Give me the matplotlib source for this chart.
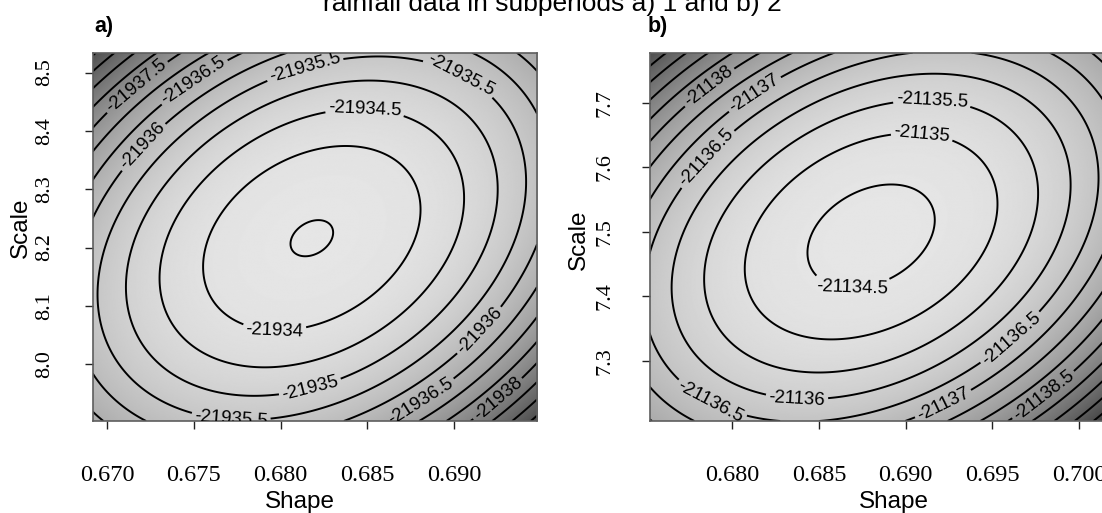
import numpy as np
import matplotlib
matplotlib.use("Agg")
import matplotlib.pyplot as plt

W, H, DPI = 1102, 513, 100

# ---------------- data ----------------
title = "rainfall data in subperiods a) 1 and b) 2"
panel_tags = ["a)", "b)"]
x_label = "Shape"
y_label = "Scale"

# log-likelihood surface (quadratic approximation around the maximum)
shape_mle = [0.6818, 0.6880]
scale_mle = [8.216, 7.493]
shape_se = [0.00615, 0.0063]
scale_se = [0.155, 0.138]
shape_scale_corr = [0.31, 0.315]
loglik_max = [-21933.48, -21134.33]

shape_range = [(0.66916, 0.69479), (0.67521, 0.70144)]
scale_range = [(7.9026, 8.534), (7.2067, 7.7778)]

levels_a = [-21940.0, -21939.5, -21939.0, -21938.5, -21938.0, -21937.5, -21937.0,
            -21936.5, -21936.0, -21935.5, -21935.0, -21934.5, -21934.0, -21933.5]
levels_b = [-21141.0, -21140.5, -21140.0, -21139.5, -21139.0, -21138.5, -21138.0,
            -21137.5, -21137.0, -21136.5, -21136.0, -21135.5, -21135.0, -21134.5]
contour_levels = [levels_a, levels_b]

# contour values that carry a label (one entry per printed label)
labelled_a = [-21937.5, -21936.5, -21936.0, -21935.5, -21935.5, -21934.5,
              -21934.0, -21935.0, -21935.5, -21936.0, -21936.5, -21938.0]
labelled_b = [-21138.0, -21137.0, -21136.5, -21135.5, -21135.0, -21134.5,
              -21136.0, -21136.5, -21137.0, -21136.5, -21138.5]
labelled = [labelled_a, labelled_b]

xticks_a = [0.670, 0.675, 0.680, 0.685, 0.690]
xticks_b = [0.680, 0.685, 0.690, 0.695, 0.700]
xticklabels_a = ["0.670", "0.675", "0.680", "0.685", "0.690"]
xticklabels_b = ["0.680", "0.685", "0.690", "0.695", "0.700"]
yticks_a = [8.0, 8.1, 8.2, 8.3, 8.4, 8.5]
yticks_b = [7.3, 7.4, 7.5, 7.6, 7.7]
yticklabels_a = ["8.0", "8.1", "8.2", "8.3", "8.4", "8.5"]
yticklabels_b = ["7.3", "7.4", "7.5", "7.6", "7.7"]
xticks = [xticks_a, xticks_b]
yticks = [yticks_a, yticks_b]
xticklabels = [xticklabels_a, xticklabels_b]
yticklabels = [yticklabels_a, yticklabels_b]

# ---------------- layout (kept separate from data) ----------------
label_pos_a = [(0.67177, 8.4737), (0.67513, 8.4794), (0.67235, 8.365),
               (0.68148, 8.4995), (0.69022, 8.488), (0.68484, 8.4222),
               (0.67965, 8.0608), (0.68167, 7.9634), (0.67715, 7.9119),
               (0.69157, 8.055), (0.68792, 7.9450), (0.69253, 7.9406)]
label_pos_b = [(0.67871, 7.7229), (0.68131, 7.7124), (0.67862, 7.6114),
               (0.6915, 7.6969), (0.69092, 7.6462), (0.68689, 7.4294),
               (0.68371, 7.2376), (0.67881, 7.2403), (0.69217, 7.2325),
               (0.69611, 7.3336), (0.69784, 7.2506)]
label_pos = [label_pos_a, label_pos_b]

ax_rects = [
    (92.7 / W, 1 - 421 / H, (537 - 92.7) / W, (421 - 52.7) / H),
    (649.5 / W, 1 - 421 / H, (1104 - 649.5) / W, (421 - 52.7) / H),
]
ytick_pad = [21.7, 19.5]
tag_xy = [(104, 27), (658, 27)]
xlabel_xy = [(300, 508), (894, 508)]
ylabel_xy = [(26.5, 227.5), (585, 240)]

plt.rcParams["font.family"] = ["Liberation Sans", "DejaVu Sans"]

fig = plt.figure(figsize=(W / DPI, H / DPI), dpi=DPI)
fig.patch.set_facecolor("white")

fig.text(552 / W, 1 - 10.5 / H, title, ha="center", va="baseline", fontsize=19)

for i in range(2):
    ax = fig.add_axes(ax_rects[i])
    x0, x1 = shape_range[i]
    y0, y1 = scale_range[i]
    xs = np.linspace(x0, x1, 500)
    ys = np.linspace(y0, y1, 500)
    X, Y = np.meshgrid(xs, ys)
    u = (X - shape_mle[i]) / shape_se[i]
    v = (Y - scale_mle[i]) / scale_se[i]
    r = shape_scale_corr[i]
    Q = 0.5 * (u ** 2 - 2 * r * u * v + v ** 2) / (1 - r ** 2)
    Z = loglik_max[i] - Q

    shade = 0.90 - 0.58 * np.clip(Q / 6.0, 0, None) ** 1.45
    ax.imshow(shade, extent=[x0, x1, y0, y1], origin="lower", aspect="auto",
              cmap="gray", vmin=0, vmax=1, interpolation="bilinear")
    ax.set_xlim(x0, x1)
    ax.set_ylim(y0, y1)
    for lev in contour_levels[i]:
        cs = ax.contour(X, Y, Z, levels=[lev], colors="black",
                        linewidths=1.4, linestyles="solid")
        ax.set_xlim(x0, x1)
        ax.set_ylim(y0, y1)
        spots = [p for l, p in zip(labelled[i], label_pos[i]) if l == lev]
        if spots and len(cs.allsegs[0]) > 0:
            ax.clabel(cs, fmt="%g", manual=spots, fontsize=13.4,
                      inline=True, inline_spacing=3)

    ax.set_xticks(xticks[i])
    ax.set_xticklabels(xticklabels[i], fontfamily="Liberation Serif", fontsize=17.5)
    ax.set_yticks(yticks[i])
    ax.set_yticklabels(yticklabels[i], fontfamily="Liberation Serif", fontsize=16,
                       rotation=90, va="center")
    ax.tick_params(axis="x", direction="out", length=5.8, width=1.0, pad=26,
                   color="#222222")
    ax.tick_params(axis="y", direction="out", length=5.8, width=1.0,
                   pad=ytick_pad[i], color="#222222")
    for sp in ax.spines.values():
        sp.set_color("#5e5e5e")
        sp.set_linewidth(1.2)

    ax.set_xlabel(x_label, fontsize=17.5, va="baseline", ha="center")
    ax.xaxis.set_label_coords(xlabel_xy[i][0] / W, 1 - xlabel_xy[i][1] / H,
                              transform=fig.transFigure)
    ax.set_ylabel(y_label, fontsize=17.5, va="baseline", ha="center")
    ax.yaxis.set_label_coords(ylabel_xy[i][0] / W, 1 - ylabel_xy[i][1] / H,
                              transform=fig.transFigure)

    fig.text(tag_xy[i][0] / W, 1 - tag_xy[i][1] / H, panel_tags[i],
             ha="center", va="center", fontsize=15.5, fontweight="bold")

fig.savefig("out.png", dpi=DPI)
